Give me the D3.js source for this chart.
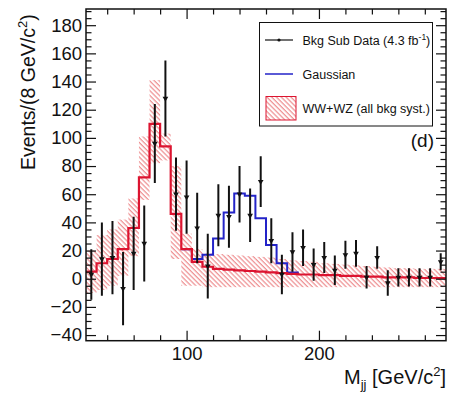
<!DOCTYPE html>
<html>
<head>
<meta charset="utf-8">
<script src="https://cdn.jsdelivr.net/npm/d3@7"></script>
<style>
body { margin: 0; background: #fff; }
text { font-family: "Liberation Sans", Arial, sans-serif; fill: #111; }
</style>
</head>
<body>
<div id="chart"></div>
<script>
// Canvas size
var width = 453;
var height = 398;

// Plot frame (pixels)
var frame = { left: 86, right: 446, top: 9, bottom: 340.7 };

// Bin low edges (8 GeV/c^2 bins)
var binLow = [24, 32, 40, 48, 56, 64, 72, 80, 88, 96, 104, 112, 120, 128, 136, 144, 152,
              160, 168, 176, 184, 192, 200, 208, 216, 224, 232, 240, 248, 256, 264, 272, 280, 288];
var binWidth = 8;

// Background subtracted data and its errors
var dataVals = [3, 14, 15, -7, 18, 25, 96, 128, 60, 58, 36, 9, 45, 44, 60, 45, 69,
                27, 3, 19, 22, 10, 15, 6, 17, 18, 1, 15, -3, 1, 1, 1, 1, 12];
var dataErr = [18, 26, 26, 26, 26, 27, 28, 27, 26, 26, 25, 23, 22, 22, 20, 19, 18,
               16, 14, 14, 13, 11.5, 11, 10.5, 10, 9.5, 8, 8, 9, 6.5, 6.5, 6.5, 6.5, 6];

// WW+WZ expectation
var wwwzVals = [5, 11, 14, 21, 36, 72, 110, 94, 46, 21, 12, 8.5, 7, 6.5, 6, 5.5, 5,
                4.5, 4, 3.5, 3, 3, 2.5, 2.5, 2, 2, 1.5, 1.5, 1, 1, 1, 0.5, 0.5, 0.5];

// Systematic band (all bkg syst.)
var systLo = [-10, -8, -5, 2, 16, 56, 82, 84, 14, -5, -5, -6, -6, -6, -6, -6, -6,
              -6, -6, -6, -6, -6, -6, -6, -6, -6, -6, -6, -6, -6, -6, -6, -6, -6];
var systHi = [20, 31, 35, 42, 57, 101, 141, 103, 80, 32, 21, 18, 17.5, 17, 16.5, 16, 15.5,
              15, 14, 13, 12.5, 12, 11, 10.5, 10, 9.5, 9, 8.5, 8, 7.5, 7.5, 7, 7, 7];

// Gaussian (on top of WW+WZ)
var gaussLow = [96, 104, 112, 120, 128, 136, 144, 152, 160, 168, 176];
var gaussVals = [21, 14, 17, 28.5, 47, 60.5, 59, 43, 24, 11, 4.5];

// Axis ticks
var xMajor = [100, 200];
var xMinor = [40, 60, 80, 120, 140, 160, 180, 220, 240, 260, 280];
var yMajor = [-40, -20, 0, 20, 40, 60, 80, 100, 120, 140, 160, 180];

var redColor = "#dc1430";
var blueColor = "#2323c8";

var svg = d3.select("#chart").append("svg")
    .attr("width", width)
    .attr("height", height);

var x = d3.scaleLinear().domain([24, 296]).range([frame.left, frame.right]);
var y = d3.scaleLinear().domain([-44, 191.5]).range([frame.bottom, frame.top]);

// hatch pattern and clip
var defs = svg.append("defs");
var pat = defs.append("pattern")
    .attr("id", "hatch")
    .attr("patternUnits", "userSpaceOnUse")
    .attr("width", 3.4)
    .attr("height", 3.4)
    .attr("patternTransform", "rotate(-45)");
pat.append("line")
    .attr("x1", 1).attr("y1", 0).attr("x2", 1).attr("y2", 3.4)
    .attr("stroke", "#e24448")
    .attr("stroke-width", 0.75);

defs.append("clipPath").attr("id", "plotclip")
    .append("rect")
    .attr("x", frame.left).attr("y", frame.top)
    .attr("width", frame.right - frame.left)
    .attr("height", frame.bottom - frame.top);

var plot = svg.append("g").attr("clip-path", "url(#plotclip)");

// systematic band
plot.selectAll("rect.syst")
    .data(binLow)
    .enter()
    .append("rect")
    .attr("class", "syst")
    .attr("x", function(d) { return x(d); })
    .attr("width", function(d) { return x(d + binWidth) - x(d); })
    .attr("y", function(d, i) { return y(systHi[i]); })
    .attr("height", function(d, i) { return y(systLo[i]) - y(systHi[i]); })
    .attr("fill", "url(#hatch)");

// step line helper
function stepPoints(lows, vals, endVal) {
    var pts = lows.map(function(d, i) { return [d, vals[i]]; });
    var lastX = lows[lows.length - 1] + binWidth;
    pts.push([lastX, vals[vals.length - 1]]);
    if (endVal !== undefined) pts.push([lastX, endVal]);
    return pts;
}

var stepLine = d3.line()
    .x(function(d) { return x(d[0]); })
    .y(function(d) { return y(d[1]); })
    .curve(d3.curveStepAfter);

// Gaussian line, ends at the WW+WZ level
var gaussEnd = gaussLow[gaussLow.length - 1] + binWidth;
plot.append("path")
    .attr("d", stepLine(stepPoints(gaussLow, gaussVals, wwwzVals[binLow.indexOf(gaussEnd)])))
    .attr("fill", "none")
    .attr("stroke", blueColor)
    .attr("stroke-width", 2);

// WW+WZ line
plot.append("path")
    .attr("d", stepLine(stepPoints(binLow, wwwzVals)))
    .attr("fill", "none")
    .attr("stroke", redColor)
    .attr("stroke-width", 2.2);

// data error bars and markers
plot.selectAll("line.err")
    .data(binLow)
    .enter()
    .append("line")
    .attr("class", "err")
    .attr("x1", function(d) { return x(d + binWidth / 2); })
    .attr("x2", function(d) { return x(d + binWidth / 2); })
    .attr("y1", function(d, i) { return y(dataVals[i] + dataErr[i]); })
    .attr("y2", function(d, i) { return y(dataVals[i] - dataErr[i]); })
    .attr("stroke", "#111")
    .attr("stroke-width", 2);

var tri = d3.symbol().type(d3.symbolTriangle).size(14);
plot.selectAll("path.pt")
    .data(binLow)
    .enter()
    .append("path")
    .attr("class", "pt")
    .attr("d", tri)
    .attr("transform", function(d, i) {
        return "translate(" + x(d + binWidth / 2) + "," + y(dataVals[i]) + ") rotate(180)";
    })
    .attr("fill", "#111");

// axes (ticks pointing inward, ROOT style)
function styleAxis(g) {
    g.select(".domain").remove();
    g.selectAll("line").attr("stroke", "#111").attr("stroke-width", 1.2);
    g.selectAll("text").style("font-size", "18.5px").attr("fill", "#111");
}

var yMinor = d3.range(-40, 191, 5).filter(function(v) { return yMajor.indexOf(v) < 0; });

svg.append("g")
    .attr("transform", "translate(0," + frame.bottom + ")")
    .call(d3.axisBottom(x).tickValues(xMajor).tickFormat(d3.format("d"))
        .tickSizeInner(-10).tickSizeOuter(0).tickPadding(6))
    .call(styleAxis);
svg.append("g")
    .attr("transform", "translate(0," + frame.bottom + ")")
    .call(d3.axisBottom(x).tickValues(xMinor).tickFormat("").tickSizeInner(-5.5).tickSizeOuter(0))
    .call(styleAxis);
svg.append("g")
    .attr("transform", "translate(0," + frame.top + ")")
    .call(d3.axisTop(x).tickValues(xMajor).tickFormat("").tickSizeInner(-10).tickSizeOuter(0))
    .call(styleAxis);
svg.append("g")
    .attr("transform", "translate(0," + frame.top + ")")
    .call(d3.axisTop(x).tickValues(xMinor).tickFormat("").tickSizeInner(-5.5).tickSizeOuter(0))
    .call(styleAxis);

svg.append("g")
    .attr("transform", "translate(" + frame.left + ",0)")
    .call(d3.axisLeft(y).tickValues(yMajor).tickFormat(d3.format("d"))
        .tickSizeInner(-10).tickSizeOuter(0).tickPadding(4))
    .call(styleAxis);
svg.append("g")
    .attr("transform", "translate(" + frame.left + ",0)")
    .call(d3.axisLeft(y).tickValues(yMinor).tickFormat("").tickSizeInner(-5.5).tickSizeOuter(0))
    .call(styleAxis);
svg.append("g")
    .attr("transform", "translate(" + frame.right + ",0)")
    .call(d3.axisRight(y).tickValues(yMajor).tickFormat("").tickSizeInner(-10).tickSizeOuter(0))
    .call(styleAxis);
svg.append("g")
    .attr("transform", "translate(" + frame.right + ",0)")
    .call(d3.axisRight(y).tickValues(yMinor).tickFormat("").tickSizeInner(-5.5).tickSizeOuter(0))
    .call(styleAxis);

// frame
svg.append("rect")
    .attr("x", frame.left).attr("y", frame.top)
    .attr("width", frame.right - frame.left)
    .attr("height", frame.bottom - frame.top)
    .attr("fill", "none")
    .attr("stroke", "#111")
    .attr("stroke-width", 1.5);

// axis titles
var xt = svg.append("text")
    .attr("x", 446).attr("y", 384)
    .attr("text-anchor", "end")
    .style("font-size", "20px");
xt.append("tspan").text("M");
xt.append("tspan").attr("dy", 5).style("font-size", "13px").text("jj");
xt.append("tspan").attr("dy", -5).text(" [GeV/c");
xt.append("tspan").attr("dy", -8).style("font-size", "13px").text("2");
xt.append("tspan").attr("dy", 8).text("]");

var yt = svg.append("text")
    .attr("transform", "translate(35,170) rotate(-90)")
    .attr("text-anchor", "start")
    .style("font-size", "19.5px");
yt.append("tspan").text("Events/(8 GeV/c");
yt.append("tspan").attr("dy", -8).style("font-size", "13px").text("2");
yt.append("tspan").attr("dy", 8).text(")");

// legend
var legend = svg.append("g");
legend.append("rect")
    .attr("x", 259.5).attr("y", 22.5)
    .attr("width", 173).attr("height", 103.5)
    .attr("fill", "#fff")
    .attr("stroke", "#111")
    .attr("stroke-width", 1);

legend.append("line")
    .attr("x1", 265).attr("x2", 293).attr("y1", 40).attr("y2", 40)
    .attr("stroke", "#111").attr("stroke-width", 1.2);
legend.append("circle").attr("cx", 279).attr("cy", 40).attr("r", 1.6).attr("fill", "#111");
var l1 = legend.append("text").attr("x", 302.5).attr("y", 44.5).style("font-size", "12.5px");
l1.append("tspan").text("Bkg Sub Data (4.3 fb");
l1.append("tspan").attr("dy", -5).style("font-size", "8.5px").text("-1");
l1.append("tspan").attr("dy", 5).text(")");

legend.append("line")
    .attr("x1", 265).attr("x2", 293).attr("y1", 74).attr("y2", 74)
    .attr("stroke", blueColor).attr("stroke-width", 1.5);
legend.append("text").attr("x", 302.5).attr("y", 78.5).style("font-size", "12.5px").text("Gaussian");

legend.append("rect")
    .attr("x", 266).attr("y", 96.5).attr("width", 30).attr("height", 23.5)
    .attr("fill", "url(#hatch)")
    .attr("stroke", redColor).attr("stroke-width", 1);
legend.append("text").attr("x", 302.5).attr("y", 112.5).style("font-size", "12.5px").text("WW+WZ (all bkg syst.)");

// panel label
svg.append("text")
    .attr("x", 434).attr("y", 147)
    .attr("text-anchor", "end")
    .style("font-size", "19px")
    .text("(d)");
</script>
</body>
</html>
